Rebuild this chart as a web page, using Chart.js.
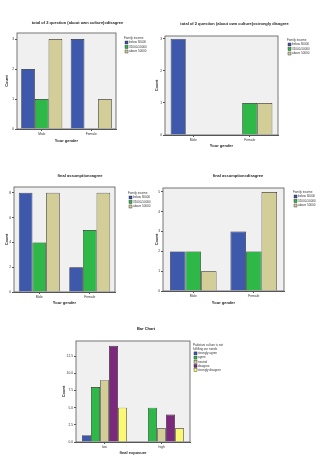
<!DOCTYPE html>
<html>
<head>
<meta charset="utf-8">
<script src="https://cdn.jsdelivr.net/npm/chart.js@4"></script>
<style>
body { margin: 0; background: #fff; }
#page { position: relative; width: 331px; height: 464px; overflow: hidden; }
canvas { position: absolute; }
</style>
</head>
<body>
<div id="page"></div>
<script>
const FONT = 'Arial, "Liberation Sans", sans-serif';
const palette = ['#3e58ac', '#2eb848', '#d3ce97', '#7c287d', '#fbf873'];

const genderLabels = ['Male', 'Female'];
const exposureLabels = ['low', 'high'];
const incomeLabels = ['below 30000', '31000-50000', 'above 50000'];
const opinionLabels = ['strongly agree', 'agree', 'neutral', 'disagree', 'strongly disagree'];

// counts: one row per legend entry, one value per category
const cultureDisagree = [[2, 3], [1, 0], [3, 1]];
const cultureStrongDisagree = [[3, 0], [0, 1], [0, 1]];
const assumptionAgree = [[8, 2], [4, 5], [8, 8]];
const assumptionDisagree = [[2, 3], [2, 2], [1, 5]];
const exposureOpinion = [[1, 0], [8, 5], [9, 2], [14, 4], [5, 2]];

const ticks1 = [0, 1, 2, 3];
const ticks2 = [0, 1, 2, 3];
const ticks3 = [0, 2, 4, 6, 8];
const ticks4 = [0, 1, 2, 3, 4, 5];
const ticks5 = [0, 2.5, 5, 7.5, 10, 12.5];

// plot background + frame like SPSS output
const framePlugin = {
  id: 'frame',
  beforeDatasetsDraw(chart) {
    const a = chart.chartArea, ctx = chart.ctx;
    ctx.save();
    ctx.fillStyle = '#f0f0f0';
    ctx.fillRect(a.left, a.top, a.width, a.height);
    ctx.restore();
  },
  afterDatasetsDraw(chart) {
    const a = chart.chartArea, ctx = chart.ctx;
    ctx.save();
    ctx.strokeStyle = '#555';
    ctx.lineWidth = 0.8;
    ctx.strokeRect(a.left, a.top, a.width, a.height);
    ctx.restore();
  }
};

// small legend at the right of the plot, reads the datasets
const sideLegend = {
  id: 'sideLegend',
  afterDraw(chart, args, o) {
    const a = chart.chartArea, ctx = chart.ctx;
    const x = a.right + o.dx;
    let y = a.top + o.dy;
    ctx.save();
    ctx.font = '3px ' + FONT;
    ctx.textBaseline = 'middle';
    ctx.fillStyle = '#333';
    o.title.forEach(t => { ctx.fillText(t, x, y); y += o.gap; });
    chart.data.datasets.forEach(ds => {
      ctx.fillStyle = ds.backgroundColor;
      ctx.fillRect(x + 1, y - 1.5, 3, 3);
      ctx.strokeStyle = '#222';
      ctx.lineWidth = 0.4;
      ctx.strokeRect(x + 1, y - 1.5, 3, 3);
      ctx.fillStyle = '#333';
      ctx.fillText(ds.label, x + 5, y);
      y += o.gap;
    });
    ctx.restore();
  }
};

const charts = [
  { title: 'total of 2 question (about own culture)=disagree', cats: genderLabels, series: incomeLabels, values: cultureDisagree,
    ticks: ticks1, max: 3.2, xTitle: 'Your gender', legendTitle: ['Family income'], catPct: 0.83,
    left: 0, top: 0, width: 155, plot: { l: 17, r: 116, t: 33, b: 129 }, titleY: 23, xTitleY: 141, yTitleX: 7, legend: { dx: 8, dy: 5, gap: 4.5 } },
  { title: 'total of 2 question (about own culture)=strongly disagree', cats: genderLabels, series: incomeLabels, values: cultureStrongDisagree,
    ticks: ticks2, max: 3.09, xTitle: 'Your gender', legendTitle: ['Family income'], catPct: 0.8,
    left: 150, top: 0, width: 169, plot: { l: 165, r: 278, t: 36, b: 135 }, titleY: 24, xTitleY: 146, yTitleX: 157, legend: { dx: 9, dy: 4, gap: 4.5 } },
  { title: 'final assumption=agree', cats: genderLabels, series: incomeLabels, values: assumptionAgree,
    ticks: ticks3, max: 8.47, xTitle: 'Your gender', legendTitle: ['Family income'], catPct: 0.81,
    left: 0, top: 150, width: 160, plot: { l: 14, r: 115, t: 187, b: 292 }, titleY: 176, xTitleY: 303, yTitleX: 7, legend: { dx: 13, dy: 6, gap: 4.5 } },
  { title: 'final assumption=disagree', cats: genderLabels, series: incomeLabels, values: assumptionDisagree,
    ticks: ticks4, max: 5.2, xTitle: 'Your gender', legendTitle: ['Family income'], catPct: 0.77,
    left: 150, top: 150, width: 176, plot: { l: 163, r: 284, t: 188, b: 291 }, titleY: 176, xTitleY: 303, yTitleX: 157, legend: { dx: 9, dy: 4, gap: 4.5 } },
  { title: 'Bar Chart', cats: exposureLabels, series: opinionLabels, values: exposureOpinion,
    ticks: ticks5, max: 14.7, decimals: 1, xTitle: 'final exposure', legendTitle: ['Pakistani culture is not', 'fulfilling our needs'], catPct: 0.79,
    left: 50, top: 310, width: 192, plot: { l: 76, r: 190, t: 341, b: 442 }, titleY: 329, xTitleY: 453, yTitleX: 64, legend: { dx: 3, dy: 4, gap: 4.2 } }
];

const page = document.getElementById('page');

charts.forEach(c => {
  const tl = 4 * 1.2;   // title line height
  const al = 4 * 1.2;   // axis title line height
  const H = Math.ceil(c.xTitleY + al / 2 - c.top) + 1;
  const xHeight = c.top + H - c.plot.b;
  const yWidth = c.plot.l - c.left;
  const padWidth = c.left + c.width - c.plot.r;

  const cv = document.createElement('canvas');
  cv.width = c.width;
  cv.height = H;
  cv.style.left = c.left + 'px';
  cv.style.top = c.top + 'px';
  page.appendChild(cv);

  new Chart(cv, {
    type: 'bar',
    data: {
      labels: c.cats,
      datasets: c.series.map((name, i) => ({
        label: name,
        data: c.values[i],
        backgroundColor: palette[i],
        borderColor: '#222',
        borderWidth: 0.7,
        categoryPercentage: c.catPct,
        barPercentage: 1,
        yAxisID: 'y'
      }))
    },
    options: {
      responsive: false,
      animation: false,
      layout: { padding: 0 },
      plugins: {
        legend: { display: false },
        tooltip: { enabled: false },
        title: {
          display: true,
          text: c.title,
          color: '#222',
          font: { family: FONT, size: 4, weight: 'bold' },
          padding: { top: c.titleY - c.top - tl / 2, bottom: c.plot.t - c.titleY - tl / 2 }
        },
        sideLegend: { title: c.legendTitle, dx: c.legend.dx, dy: c.legend.dy, gap: c.legend.gap }
      },
      scales: {
        x: {
          grid: { display: true, drawOnChartArea: false, offset: false, tickLength: 2, color: '#555' },
          border: { display: true, color: '#555' },
          ticks: { color: '#333', font: { family: FONT, size: 3.3 }, padding: 1 },
          title: { display: true, text: c.xTitle, color: '#222', font: { family: FONT, size: 4, weight: 'bold' },
                   padding: { top: 0, bottom: c.top + H - c.xTitleY - al / 2 } },
          afterFit(s) { s.height = xHeight; }
        },
        y: {
          min: 0,
          max: c.max,
          grid: { display: true, drawOnChartArea: false, tickLength: 2, color: '#555' },
          border: { display: true, color: '#555' },
          afterBuildTicks(s) { s.ticks = c.ticks.map(v => ({ value: v })); },
          ticks: {
            color: '#333',
            font: { family: FONT, size: 3.3 },
            padding: 1,
            callback: v => c.decimals ? Number(v).toFixed(c.decimals) : v
          },
          title: { display: true, text: 'Count', color: '#222', font: { family: FONT, size: 4, weight: 'bold' },
                   padding: { top: c.yTitleX - c.left - al / 2, bottom: 0 } },
          afterFit(s) { s.width = yWidth; }
        },
        pad: {
          type: 'linear',
          position: 'right',
          display: true,
          grid: { display: false },
          border: { display: false },
          ticks: { display: false },
          afterFit(s) { s.width = padWidth; }
        }
      }
    },
    plugins: [framePlugin, sideLegend]
  });
});
</script>
</body>
</html>
